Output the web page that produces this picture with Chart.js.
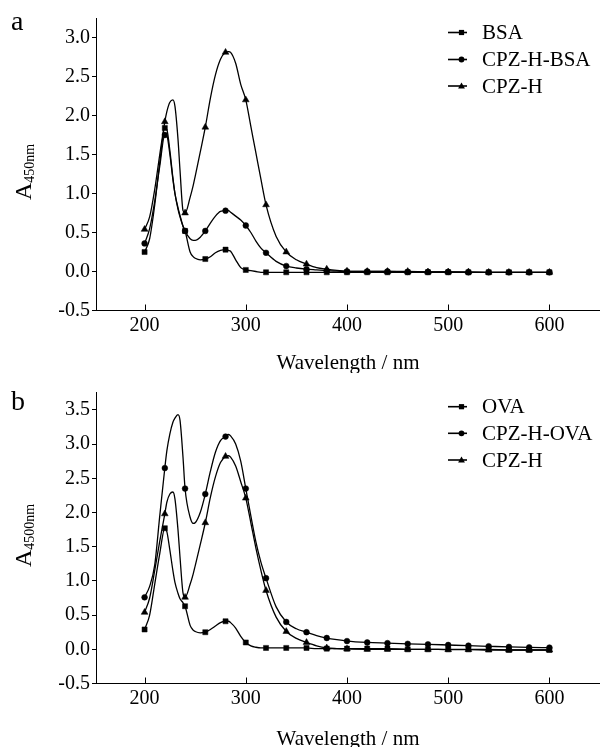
<!DOCTYPE html>
<html><head><meta charset="utf-8">
<script src="https://cdn.jsdelivr.net/npm/chart.js@4.4.1/dist/chart.umd.min.js"></script>
<style>
html,body{margin:0;padding:0;background:#fff;width:600px;height:747px;overflow:hidden}
.panel{position:absolute;left:0;width:600px}
canvas{display:block}
</style></head><body>
<div class="panel" style="top:0;height:373px"><canvas id="ca" width="600" height="373"></canvas></div>
<div class="panel" style="top:373px;height:374px"><canvas id="cb" width="600" height="374"></canvas></div>
<script>
// ---- data (wavelength in nm, absorbance) ----
const wavelengths = [200,205,210,215,220,222,225,228,230,233,235,238,240,245,248,250,255,260,265,270,275,280,283,285,290,295,300,305,310,315,320,330,340,350,360,370,380,390,400,420,440,460,480,500,520,540,560,580,600];

// panel a
const bsaA =      [0.25,0.42,0.85,1.40,1.84,1.82,1.55,1.20,1.00,0.80,0.70,0.58,0.52,0.25,0.19,0.17,0.15,0.16,0.19,0.24,0.27,0.28,0.27,0.26,0.15,0.05,0.02,0.01,0.00,-0.01,-0.01,-0.01,-0.01,-0.01,-0.01,-0.01,-0.01,-0.01,-0.01,-0.01,-0.01,-0.01,-0.01,-0.01,-0.01,-0.01,-0.01,-0.01,-0.01];
const cpzhBsaA =  [0.36,0.55,0.90,1.35,1.75,1.74,1.50,1.18,1.00,0.82,0.72,0.58,0.52,0.42,0.40,0.40,0.44,0.52,0.62,0.71,0.77,0.78,0.78,0.76,0.71,0.66,0.59,0.50,0.39,0.30,0.24,0.13,0.07,0.045,0.03,0.02,0.01,0.005,0.00,0.00,0.00,-0.005,-0.005,-0.005,-0.01,-0.01,-0.01,-0.01,-0.01];
const cpzhA =     [0.54,0.70,1.05,1.50,1.92,2.05,2.17,2.20,2.12,1.70,1.30,0.78,0.75,0.95,1.10,1.22,1.53,1.85,2.22,2.52,2.72,2.81,2.82,2.81,2.67,2.40,2.20,1.86,1.52,1.18,0.855,0.45,0.25,0.15,0.095,0.05,0.03,0.015,0.005,0.00,0.00,0.00,-0.005,-0.005,-0.005,-0.01,-0.01,-0.01,-0.01];

// panel b
const ovaB =      [0.29,0.50,0.95,1.40,1.77,1.72,1.45,1.15,0.98,0.82,0.74,0.68,0.63,0.35,0.28,0.26,0.24,0.25,0.29,0.34,0.39,0.41,0.41,0.39,0.31,0.19,0.10,0.05,0.03,0.02,0.02,0.02,0.02,0.02,0.02,0.01,0.01,0.01,0.01,0.01,0.01,0.00,0.00,0.00,0.00,0.00,-0.01,-0.01,-0.01];
const cpzhOvaB =  [0.76,0.92,1.23,1.95,2.65,2.90,3.15,3.32,3.38,3.43,3.35,2.80,2.35,1.93,1.84,1.85,2.00,2.27,2.60,2.88,3.05,3.11,3.14,3.12,3.00,2.75,2.35,1.95,1.57,1.27,1.04,0.62,0.40,0.30,0.25,0.20,0.165,0.14,0.12,0.10,0.09,0.08,0.073,0.063,0.053,0.044,0.035,0.028,0.025];
const cpzhB =     [0.54,0.75,1.15,1.58,1.98,2.15,2.27,2.30,2.20,1.75,1.35,0.82,0.76,0.95,1.10,1.22,1.53,1.85,2.22,2.52,2.73,2.82,2.83,2.81,2.68,2.45,2.21,1.85,1.48,1.15,0.86,0.47,0.26,0.16,0.10,0.05,0.02,0.01,0.005,0.00,0.00,0.00,0.00,-0.005,-0.005,-0.01,-0.01,-0.01,-0.01];

// labels & ticks
const seriesLabelsA = ['BSA','CPZ-H-BSA','CPZ-H'];
const seriesLabelsB = ['OVA','CPZ-H-OVA','CPZ-H'];
const xTicks = [200,300,400,500,600];
const yTicksA = [-0.5,0.0,0.5,1.0,1.5,2.0,2.5,3.0];
const yTicksB = [-0.5,0.0,0.5,1.0,1.5,2.0,2.5,3.0,3.5];
const xTitle = 'Wavelength / nm';
const yTitleSubA = '450nm';
const yTitleSubB = '4500nm';

// ---- rendering ----
const SERIF = '"Liberation Serif", "Times New Roman", serif';
const styles = ['rect','circle','triangle'];
const radii = {rect:3.6, circle:2.9, triangle:3.9};

function makeDatasets(labels, arrays){
  return arrays.map((arr,k)=>({
    label: labels[k],
    data: wavelengths.map((x,i)=>({x:x, y:arr[i]})),
    borderColor:'#000', borderWidth:1.3,
    backgroundColor:'#000',
    pointStyle: styles[k],
    pointBackgroundColor:'#000', pointBorderColor:'#000', pointBorderWidth:0.5,
    pointRadius: c => (c.raw && c.raw.x % 20 === 0) ? radii[styles[k]] : 0,
    cubicInterpolationMode:'monotone',
    fill:false
  }));
}

function drawMarker(ctx, style, x, y){
  ctx.beginPath();
  if(style==='rect'){ ctx.rect(x-2.6,y-2.6,5.2,5.2); }
  else if(style==='circle'){ ctx.arc(x,y,2.9,0,Math.PI*2); }
  else { ctx.moveTo(x,y-3.6); ctx.lineTo(x+3.4,y+2.4); ctx.lineTo(x-3.4,y+2.4); ctx.closePath(); }
  ctx.fill();
}

function decoPlugin(cfg){
  return {
    id:'deco',
    afterDraw(chart){
      const ctx = chart.ctx, area = chart.chartArea, xs = chart.scales.x;
      ctx.save();
      ctx.fillStyle='#000'; ctx.strokeStyle='#000'; ctx.lineWidth=1;
      // inward x ticks
      xTicks.forEach(v=>{
        const px = Math.round(xs.getPixelForValue(v))+0.5;
        ctx.beginPath(); ctx.moveTo(px, area.bottom); ctx.lineTo(px, area.bottom-6); ctx.stroke();
      });
      // panel letter
      ctx.font = '28px '+SERIF; ctx.textAlign='left'; ctx.textBaseline='alphabetic';
      ctx.fillText(cfg.letter, 11, cfg.letterY);
      // x title
      ctx.font = '21px '+SERIF; ctx.textAlign='center';
      ctx.fillText(xTitle, 348, cfg.xTitleY);
      // y title with subscript
      ctx.save();
      ctx.translate(31, cfg.yTitleStart); ctx.rotate(-Math.PI/2);
      ctx.textAlign='left';
      ctx.font = '24px '+SERIF; ctx.fillText('A',0,0);
      const w = ctx.measureText('A').width;
      ctx.font = '14px '+SERIF; ctx.fillText(cfg.sub, w, 3);
      ctx.restore();
      // legend
      ctx.textAlign='left'; ctx.textBaseline='middle'; ctx.font='21px '+SERIF;
      chart.data.datasets.forEach((ds,k)=>{
        const y = cfg.legendY[k];
        ctx.lineWidth=1.6;
        ctx.beginPath(); ctx.moveTo(448,y); ctx.lineTo(467,y); ctx.stroke();
        drawMarker(ctx, styles[k], 461.5, y);
        ctx.fillText(ds.label, 482, y+1);
      });
      ctx.restore();
    }
  };
}

function makeChart(id, H, top, bottom, ymax, yTicks, datasets, cfg){
  const tickFont = {family:SERIF, size:20};
  return new Chart(document.getElementById(id), {
    type:'line',
    data:{datasets:datasets},
    options:{
      responsive:false, animation:false, devicePixelRatio:1,
      layout:{autoPadding:false, padding:{top:top,left:0,right:0,bottom:0}},
      plugins:{legend:{display:false}, tooltip:{enabled:false}},
      scales:{
        x:{type:'linear', min:152, max:650,
           afterBuildTicks:s=>{ s.ticks = xTicks.map(v=>({value:v})); },
           afterFit:s=>{ s.height = H-bottom; },
           grid:{display:false, drawTicks:false},
           border:{display:true, color:'#000', width:1},
           ticks:{font:tickFont, color:'#000', padding:3, maxRotation:0, autoSkip:false, callback:v=>String(v)}},
        y:{type:'linear', min:-0.5, max:ymax,
           afterBuildTicks:s=>{ s.ticks = yTicks.map(v=>({value:v})); },
           afterFit:s=>{ s.width = 96; },
           grid:{display:true, drawOnChartArea:false, drawTicks:true, tickLength:4, color:'#000', lineWidth:1},
           border:{display:true, color:'#000', width:1},
           ticks:{font:tickFont, color:'#000', padding:2, autoSkip:false, callback:v=>Number(v).toFixed(1)}}
      }
    },
    plugins:[decoPlugin(cfg)]
  });
}

makeChart('ca', 373, 18, 310.5, 3.25, yTicksA,
  makeDatasets(seriesLabelsA, [bsaA, cpzhBsaA, cpzhA]),
  {letter:'a', letterY:30, xTitleY:369, yTitleStart:200, sub:yTitleSubA, legendY:[32.5,59.5,86]});
makeChart('cb', 374, 19.8, 310.5, 3.75, yTicksB,
  makeDatasets(seriesLabelsB, [ovaB, cpzhOvaB, cpzhB]),
  {letter:'b', letterY:37, xTitleY:372, yTitleStart:194, sub:yTitleSubB, legendY:[33.7,60.3,87]});
</script>
</body></html>
